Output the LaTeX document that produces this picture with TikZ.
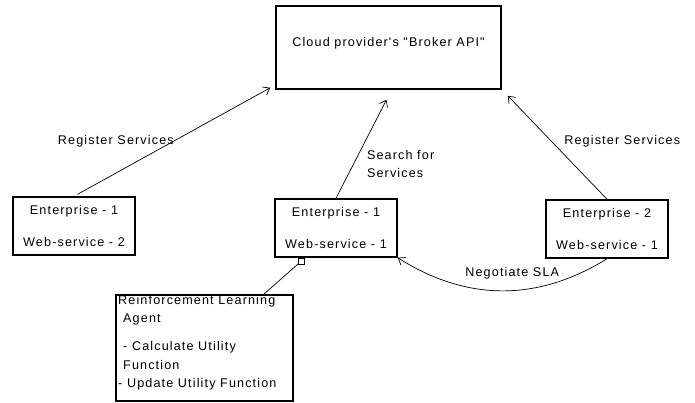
\documentclass[tikz,border=0pt]{standalone}
\usepackage{fontspec}
\newfontfamily\diafont[LetterSpace=9]{Liberation Sans}
\usepackage{tikz}
\usetikzlibrary{arrows.meta,calc}

\begin{document}
\begin{tikzpicture}[
  x=1pt, y=1pt,
  >={Straight Barb[length=6pt,width=9pt]},
  box/.style={draw, line width=1.5pt, inner sep=0pt, align=center,
    font=\diafont\fontsize{12.6}{32}\selectfont},
  entity/.style={box, minimum width=122, minimum height=58},
  link/.style={->, line width=0.7pt},
  lbl/.style={font=\diafont\fontsize{12.6}{18.5}\selectfont, align=left, inner sep=0pt}
]
\useasboundingbox (0,0) rectangle (695,-402);

% --- broker on top ---
\node[box, minimum width=225, minimum height=83, text depth=11.5pt] (broker) at (388.5,-47.5)
  {Cloud provider's "Broker API"};

% --- enterprises / web-services ---
\node[entity] (ent1ws2) at (74,-226)  {Enterprise - 1\\Web-service - 2};
\node[entity] (ent1ws1) at (336,-228) {Enterprise - 1\\Web-service - 1};
\node[entity] (ent2ws1) at (607,-229) {Enterprise - 2\\Web-service - 1};

% --- learning agent attached to ent1ws1 ---
\node[lbl, anchor=north west] (agenttext) at (118,-295) {%
Reinforcement Learning\\
\hspace*{5pt}Agent\\[9.5pt]
\hspace*{5pt}- Calculate Utility\\
\hspace*{5pt}Function\\
- Update Utility Function};
\node[box, minimum width=177, minimum height=106] (agent) at (204.5,-348) {};
\node[draw, line width=0.7pt, minimum size=6, inner sep=0pt] (port) at (301,-261) {};
\draw[line width=0.7pt] (port.south west) -- ($(agent.north east)+(-30,0)$);

% --- register / search arrows ---
\draw[link, shorten <=4pt] (ent1ws2.north) -- ($(broker.south west)+(-5,2)$)
  node[lbl, pos=0.51, anchor=east] (reg1) {Register Services};
\draw[link] (ent1ws1.north) -- ($(broker.south)+(-2,-10)$)
  node[lbl, pos=0.35, anchor=west, xshift=13] (search) {Search for\\Services};
\draw[link] (ent2ws1.north) -- ($(broker.south east)+(6,-6)$)
  node[lbl, pos=0.564, anchor=west, xshift=13] (reg2) {Register Services};

% --- SLA negotiation ---
\draw[link] (ent2ws1.south) to[bend left=32]
  node[lbl, midway, xshift=10, yshift=18] (sla) {Negotiate SLA} (ent1ws1.south east);

\end{tikzpicture}
\end{document}
